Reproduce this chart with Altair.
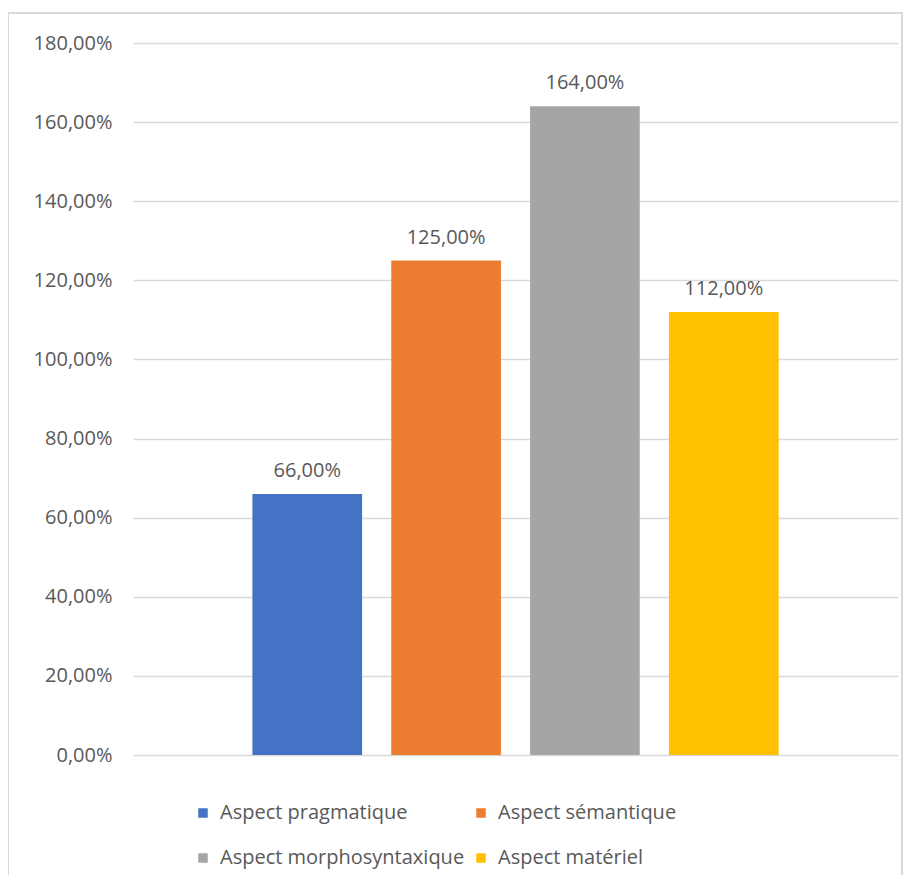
import altair as alt
import pandas as pd

series = ["Aspect pragmatique", "Aspect sémantique", "Aspect morphosyntaxique", "Aspect matériel"]
values = [66, 125, 164, 112]
colors = ["#4472C4", "#ED7D31", "#A5A5A5", "#FFC000"]
y_ticks = [0, 20, 40, 60, 80, 100, 120, 140, 160, 180]

df = pd.DataFrame({"serie": series, "valeur": values})

FONT = "Open Sans"
TXT = "#595959"
FS = 20

base = alt.Chart(df).transform_calculate(
    lab="replace(format(datum.valeur, '.2f'), '.', ',') + '%'"
)

x = alt.X("serie:N", sort=series, axis=None,
          scale=alt.Scale(paddingInner=0.21, paddingOuter=0.86))
y = alt.Y("valeur:Q",
          scale=alt.Scale(domain=[0, 180], nice=False),
          axis=alt.Axis(values=y_ticks, title=None, domain=False, ticks=False,
                        labelExpr="replace(format(datum.value, '.2f'), '.', ',') + '%'",
                        labelFont=FONT, labelFontSize=FS, labelColor=TXT,
                        labelPadding=21, gridColor="#d9d9d9", gridWidth=1.5))

bars = base.mark_bar().encode(
    x=x, y=y,
    color=alt.Color("serie:N", sort=series,
                    scale=alt.Scale(domain=series, range=colors),
                    legend=alt.Legend(title=None, orient="none", legendX=60, legendY=760,
                                      columns=2, direction="horizontal",
                                      symbolType="square", symbolSize=90,
                                      symbolStrokeWidth=0, labelFont=FONT, labelFontSize=FS,
                                      labelColor=TXT, labelOffset=7, columnPadding=6,
                                      rowPadding=25, padding=0, labelLimit=0)),
)

labels = base.mark_text(baseline="alphabetic", dy=-17, font=FONT, fontSize=FS, color=TXT).encode(
    x=x, y=y, text="lab:N"
)

frame = alt.Chart(df).mark_rect(fill=None, stroke="#d9d9d9", strokeWidth=1.5).encode(
    x=alt.value(-125), x2=alt.value(769), y=alt.value(-30), y2=alt.value(845)
)

chart = alt.layer(frame, bars, labels).properties(
    width=765, height=712,
    autosize=alt.AutoSizeParams(type="none"),
    padding={"left": 125, "top": 35, "right": 8, "bottom": 120},
    background="white",
).configure_view(stroke=None)

chart.save("out.html", embed_options={"renderer": "svg", "actions": False})
